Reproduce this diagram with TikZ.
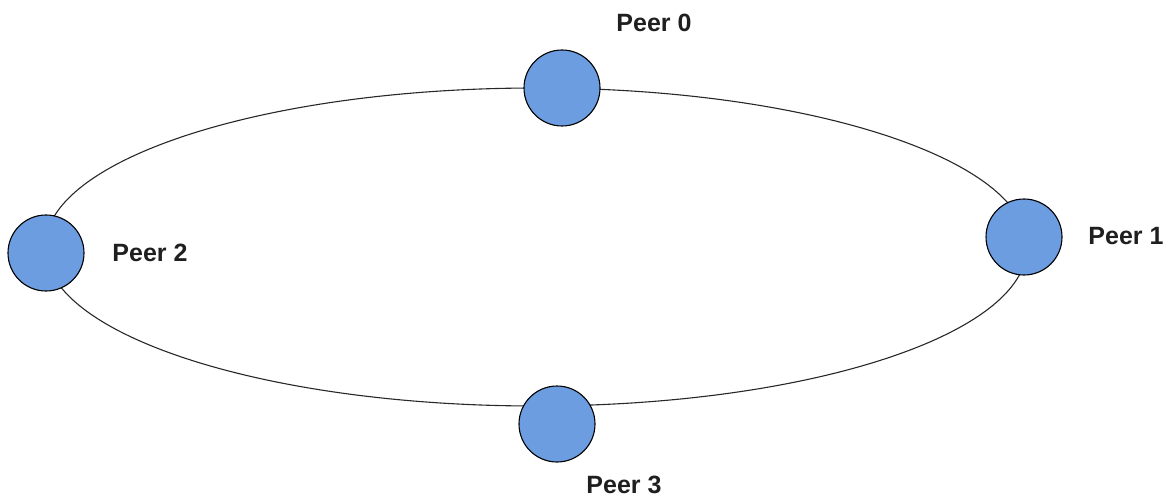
\documentclass[tikz,border=0pt]{standalone}
\usepackage{fontspec}
\setmainfont{Liberation Sans}
\definecolor{peerblue}{RGB}{108,157,224}
\definecolor{ringgray}{RGB}{40,40,40}
\begin{document}
\begin{tikzpicture}[x=1pt, y=-1pt,
		peer/.style={circle, draw=black, line width=1.1pt, fill=peerblue, minimum size=76pt, inner sep=0pt},
		peerlabel/.style={font=\fontsize{25}{30}\selectfont\bfseries, text=black!88, inner sep=0pt}]
	\useasboundingbox (0,0) rectangle (1175,497);
	% the ring
	\coordinate (ringc) at (536,247);
	\draw[ringgray, line width=1.1pt] (ringc) ellipse [x radius=491pt, y radius=159pt];
	% peers
	\node[peer] (p0) at (562,88) {};
	\node[peer] (p1) at (1024,237) {};
	\node[peer] (p2) at (46,253) {};
	\node[peer] (p3) at (557,424) {};
	% labels
	\node[peerlabel] (l0) at (654,23) {Peer 0};
	\node[peerlabel] (l1) at (1126,236) {Peer 1};
	\node[peerlabel] (l2) at (150,253) {Peer 2};
	\node[peerlabel] (l3) at (624,485) {Peer 3};
\end{tikzpicture}
\end{document}
